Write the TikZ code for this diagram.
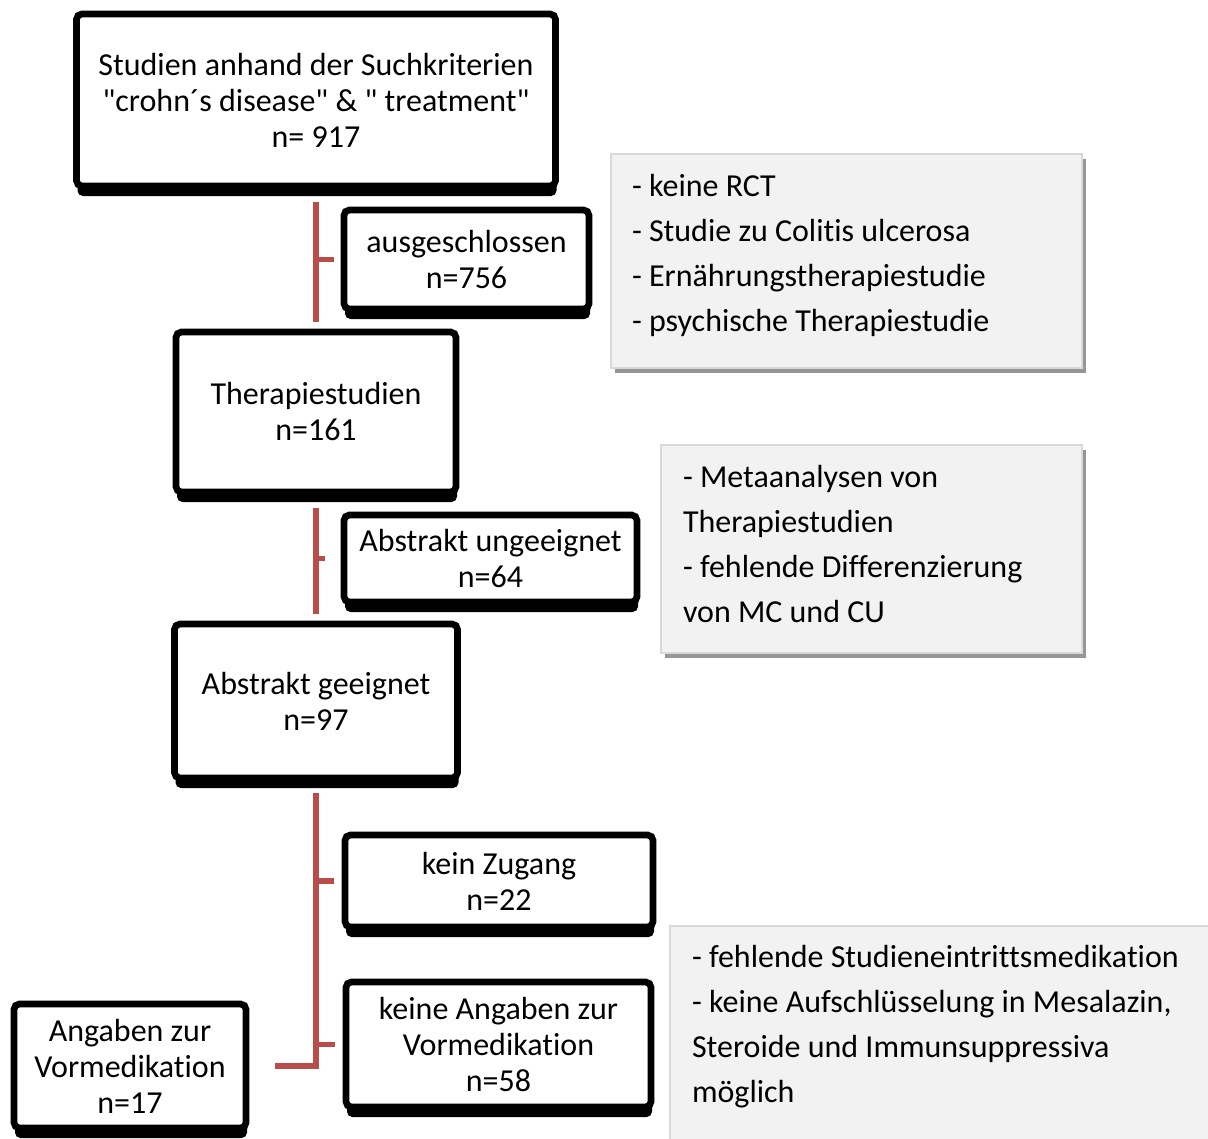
\documentclass[tikz,border=0pt]{standalone}
\usepackage{fontspec}
\setmainfont{Carlito}[Ligatures={TeXOff,CommonOff}]
\usetikzlibrary{shadows}
\definecolor{trunkred}{RGB}{185,77,74}
\definecolor{notefill}{RGB}{242,242,242}
\definecolor{noteline}{RGB}{217,217,217}
\definecolor{noteshadow}{RGB}{150,150,150}
\newcommand\notegap[1]{\par\vskip#1\hrule height 0pt}
\tikzset{%
  stepbox/.style={draw=black, line width=5pt, rounded corners=4pt, fill=white,
                  align=center, inner sep=2pt, font=\fontsize{24}{27}\selectfont,
                  drop shadow={shadow xshift=0.75pt, shadow yshift=-7.5pt, fill=black, opacity=1}},
  notebox/.style={draw=noteline, line width=1.5pt, fill=notefill, anchor=north west,
                  align=flush left, inner ysep=4pt, font=\fontsize{24}{33.75}\selectfont,
                  drop shadow={shadow xshift=3pt, shadow yshift=-3.75pt, fill=noteshadow, opacity=1}},
  trunk/.style={draw=trunkred, line width=4.2pt},
}
\begin{document}
\begin{tikzpicture}[x=0.75pt,y=-0.75pt]
              \useasboundingbox (0,0) rectangle (1208,1139);
              \node[notebox, inner xsep=15.75pt, text width=321.75pt, minimum height=160.5pt] (noteA) at (610,153)
                {- keine RCT\\- Studie zu Colitis ulcerosa\\- Ernährungstherapiestudie\\- psychische Therapiestudie\notegap{9pt}};
              \node[notebox, inner xsep=16.5pt, text width=282.75pt, minimum height=156pt] (noteB) at (660,444)
                {- Metaanalysen von\\Therapiestudien\\- fehlende Differenzierung\\von MC und CU\notegap{7.5pt}};
              \node[notebox, inner xsep=16.5pt, text width=387pt, minimum height=195pt] (noteC) at (669,925)
                {- fehlende Studieneintrittsmedikation\\- keine Aufschlüsselung in Mesalazin,\\Steroide und Immunsuppressiva\\möglich\notegap{44.25pt}};
              \node[stepbox, minimum width=359.25pt, minimum height=129pt] (studien) at (316,100)
                {Studien anhand der Suchkriterien\\"crohn´s disease" \& " treatment"\\n= 917};
              \node[stepbox, minimum width=183.75pt, minimum height=74.25pt] (ausgeschl) at (466.5,259.5)
                {ausgeschlossen\\n=756};
              \node[stepbox, minimum width=210pt, minimum height=120pt] (therapie) at (316,412)
                {Therapiestudien\\n=161};
              \node[stepbox, minimum width=219.75pt, minimum height=65.25pt] (ungeeignet) at (490.5,558.5)
                {Abstrakt ungeeignet\\n=64};
              \node[stepbox, minimum width=212.25pt, minimum height=115.5pt] (geeignet) at (316,701)
                {Abstrakt geeignet\\n=97};
              \node[stepbox, minimum width=231pt, minimum height=69pt] (zugang) at (499,881)
                {kein Zugang\\n=22};
              \node[stepbox, minimum width=228.75pt, minimum height=93.75pt] (ohneangaben) at (498.5,1044.5)
                {keine Angaben zur\\Vormedikation\\n=58};
              \node[stepbox, minimum width=174pt, minimum height=93pt] (angaben) at (130,1066)
                {Angaben zur\\Vormedikation\\n=17};
              \draw[trunk, shorten <=9.75pt, shorten >=5.25pt] (studien.south) -- (studien.south |- therapie.north);
              \draw[trunk, shorten >=5.25pt] (studien.south |- ausgeschl.west) -- (ausgeschl.west);
              \draw[trunk, shorten <=9.75pt, shorten >=5.25pt] (therapie.south) -- (therapie.south |- geeignet.north);
              \draw[trunk, shorten >=12pt] (therapie.south |- ungeeignet.west) -- (ungeeignet.west);
              \draw[trunk, shorten <=9pt, shorten >=19.5pt] (geeignet.south) -- (geeignet.south |- angaben.east) -- (angaben.east);
              \draw[trunk, shorten >=6pt] (geeignet.south |- zugang.west) -- (zugang.west);
              \draw[trunk, shorten >=6pt] (geeignet.south |- ohneangaben.west) -- (ohneangaben.west);
          \end{tikzpicture}
\end{document}
